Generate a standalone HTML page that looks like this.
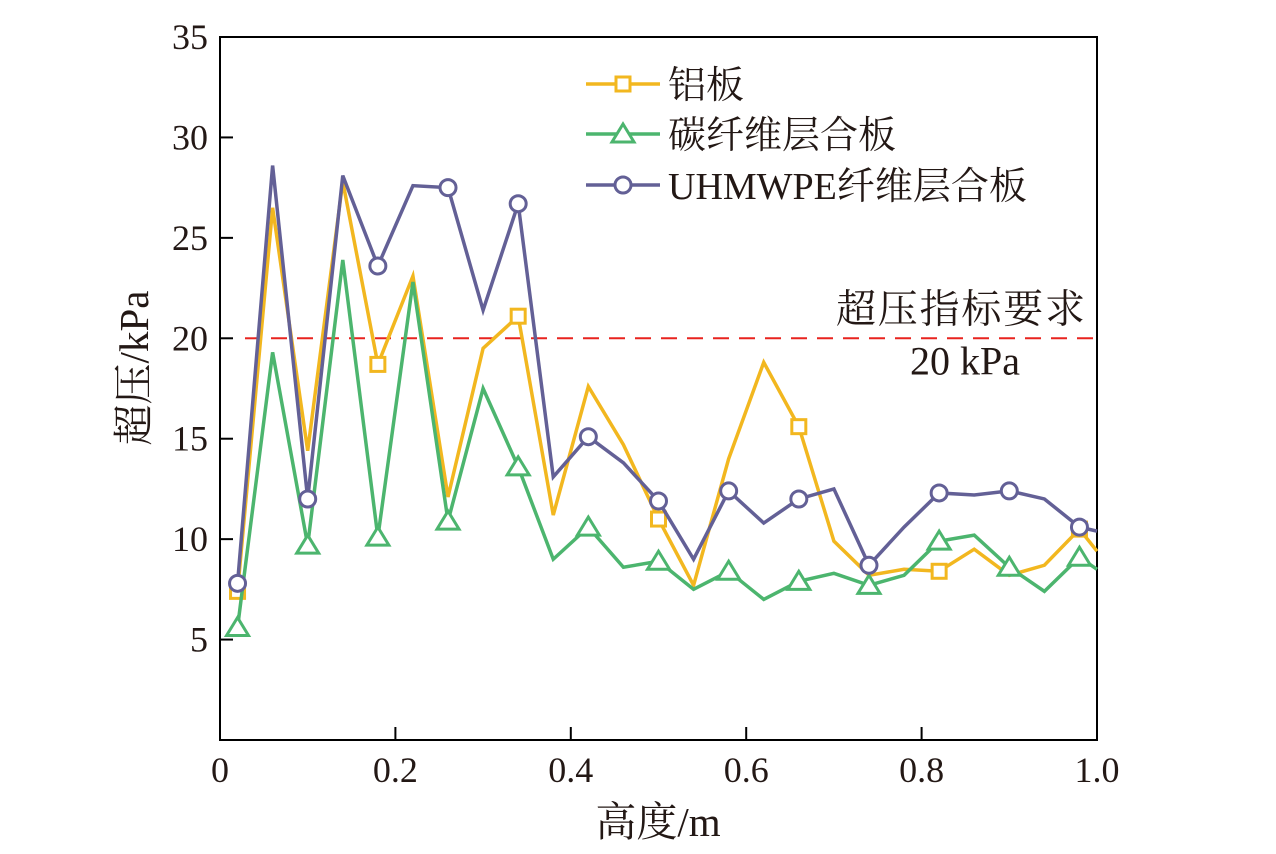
<!DOCTYPE html>
<html><head><meta charset="utf-8"><style>
html,body{margin:0;padding:0;background:#fff;}
svg text{font-family:"Liberation Serif","Noto Serif CJK SC",serif;fill:#231815;}
</style></head><body>
<svg id="chart" width="1276" height="849" xmlns="http://www.w3.org/2000/svg"></svg>
<script>
const xValues=[0.02,0.06,0.10,0.14,0.18,0.22,0.26,0.30,0.34,0.38,0.42,0.46,0.50,0.54,0.58,0.62,0.66,0.70,0.74,0.78,0.82,0.86,0.90,0.94,0.98,1.0];
const aluminium=[7.4,26.5,14.4,27.8,18.7,23.1,12.1,19.5,21.1,11.2,17.6,14.7,11.0,7.7,14.0,18.8,15.6,9.9,8.2,8.5,8.4,9.5,8.2,8.7,10.5,9.4];
const carbon=[5.6,19.3,9.7,23.9,10.1,22.8,10.9,17.5,13.6,9.0,10.6,8.6,8.9,7.5,8.4,7.0,7.9,8.3,7.7,8.2,9.9,10.2,8.6,7.4,9.1,8.5];
const uhmwpe=[7.8,28.6,12.0,28.1,23.6,27.6,27.5,21.4,26.7,13.1,15.1,13.8,11.9,9.0,12.4,10.8,12.0,12.5,8.7,10.6,12.3,12.2,12.4,12.0,10.6,10.4];
const xTicks=[0,0.2,0.4,0.6,0.8,1.0];
const xTickLabels=["0","0.2","0.4","0.6","0.8","1.0"];
const yTicks=[5,10,15,20,25,30,35];
const threshold=20;
const NS="http://www.w3.org/2000/svg";
const svg=document.getElementById('chart');
const X0=220,X1=1097,Y0=740,Y1=37;
const xs=v=>X0+(X1-X0)*v;
const ys=v=>Y0-(Y0-Y1)*v/35;
function mk(tag,attrs){const e=document.createElementNS(NS,tag);for(const k in attrs)e.setAttribute(k,attrs[k]);svg.appendChild(e);return e;}
let fr=mk('rect',{x:X0,y:Y1,width:X1-X0,height:Y0-Y1,fill:'none',stroke:'#000','stroke-width':2});


yTicks.forEach(t=>{
 const l=mk('line',{x1:X0,x2:X0+13,y1:ys(t),y2:ys(t),stroke:'#000','stroke-width':2});
 
 
 const tx=mk('text',{x:X0-12,y:ys(t)+12,'text-anchor':'end','font-size':36});
 tx.textContent=String(t);
 
 
});
xTicks.forEach((t,i)=>{
 const l=mk('line',{x1:xs(t),x2:xs(t),y1:Y0,y2:Y0-13,stroke:'#000','stroke-width':2});
 
 
 const tx=mk('text',{x:xs(t),y:Y0+42,'text-anchor':'middle','font-size':36});
 tx.textContent=xTickLabels[i];
 
 
});
const th=mk('line',{x1:X0+25,x2:X1,y1:ys(threshold),y2:ys(threshold),stroke:'#e8231f','stroke-width':2,'stroke-dasharray':'16,10'});


let t1=mk('text',{x:836,y:ys(threshold)-16,'font-size':40,textLength:249});
t1.textContent='超压指标要求';


let t2=mk('text',{x:1020,y:ys(threshold)+36,'text-anchor':'end','font-size':40});
t2.textContent='20 kPa';


function marker(type,cx,cy,color){
 let e;
 if(type==='square')e=mk('rect',{x:cx-7,y:cy-7,width:14,height:14,fill:'#fff',stroke:color,'stroke-width':3});
 else if(type==='tri')e=mk('polygon',{points:`${cx},${cy-10} ${cx-11},${cy+8} ${cx+11},${cy+8}`,fill:'#fff',stroke:color,'stroke-width':3});
 else e=mk('circle',{cx:cx,cy:cy,r:8,fill:'#fff',stroke:color,'stroke-width':3});
 return e;
}
function series(vals,color,type,name,step){
 const pts=vals.map((v,i)=>xs(xValues[i])+','+ys(v)).join(' ');
 const pl=mk('polyline',{points:pts,fill:'none',stroke:color,'stroke-width':3.5,'stroke-linejoin':'miter'});
 
 
 vals.forEach((v,i)=>{ if(i%step===0 && i<25){const m=marker(type,xs(xValues[i]),ys(v),color);
  
  }});
}
series(aluminium,'#f2b71f','square','aluminium',4);
series(carbon,'#4cb56e','tri','carbon-fiber',2);
series(uhmwpe,'#636096','circle','uhmwpe',2);
const leg=[['铝板','#f2b71f','square',84],['碳纤维层合板','#4cb56e','tri',134],['UHMWPE纤维层合板','#636096','circle',185]];
leg.forEach(l=>{
 const ln=mk('line',{x1:586,x2:660,y1:l[3],y2:l[3],stroke:l[1],'stroke-width':3.5});
 
 
 const m=marker(l[2],623,l[3],l[1]);
 
 
 const tx=mk('text',{x:668,y:l[3]+14,'font-size':38});
 tx.textContent=l[0];
 
 
});
let xt=mk('text',{x:658,y:836,'text-anchor':'middle','font-size':41});
xt.textContent='高度/m';


let yt=mk('text',{x:0,y:0,'text-anchor':'middle','font-size':41,transform:'translate(148,368) rotate(-90)'});
yt.textContent='超压/kPa';


</script>
</body></html>
